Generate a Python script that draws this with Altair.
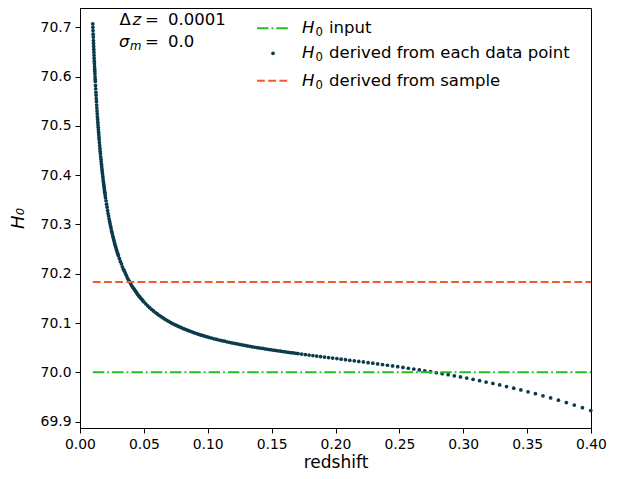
import altair as alt
import pandas as pd

# ---------------- data ----------------
z_part1 = [0.0100, 0.0101, 0.0102, 0.0103, 0.0104, 0.0105, 0.0106, 0.0107, 0.0108, 0.0109,
           0.0110, 0.0111, 0.0112, 0.0113, 0.0114, 0.0115, 0.0116, 0.0117, 0.0118, 0.0119, 0.0120,
           0.01215, 0.0123, 0.01245, 0.0126, 0.01275, 0.0129, 0.01305, 0.0132, 0.01335, 0.0135,
           0.01365, 0.0138, 0.01395, 0.0141, 0.01425, 0.0144, 0.01455, 0.0147, 0.01485, 0.0150]
h_part1 = [70.707, 70.700, 70.693, 70.686, 70.680, 70.673, 70.667, 70.661, 70.655, 70.649,
           70.643, 70.637, 70.631, 70.626, 70.620, 70.615, 70.610, 70.605, 70.599, 70.594, 70.590,
           70.582, 70.575, 70.568, 70.562, 70.555, 70.549, 70.542, 70.536, 70.530, 70.524,
           70.518, 70.513, 70.507, 70.502, 70.497, 70.492, 70.487, 70.482, 70.477, 70.472]

z_part2 = [0.0152, 0.0154, 0.0156, 0.0158, 0.0160, 0.0162, 0.0164, 0.0166, 0.0168, 0.0170,
           0.0172, 0.0174, 0.0176, 0.0178, 0.0180, 0.0182, 0.0184, 0.0186, 0.0188, 0.0190,
           0.0192, 0.0194, 0.0196, 0.0198, 0.0200,
           0.0204, 0.0208, 0.0212, 0.0216, 0.0220, 0.0224, 0.0228, 0.0232, 0.0236, 0.0240,
           0.0244, 0.0248, 0.0252, 0.0256, 0.0260, 0.0264, 0.0268, 0.0272, 0.0276, 0.0280,
           0.0284, 0.0288, 0.0292, 0.0296, 0.0300]
h_part2 = [70.466, 70.460, 70.454, 70.448, 70.443, 70.437, 70.432, 70.427, 70.422, 70.417,
           70.412, 70.407, 70.403, 70.398, 70.394, 70.389, 70.385, 70.381, 70.377, 70.373,
           70.369, 70.365, 70.362, 70.358, 70.354,
           70.348, 70.341, 70.335, 70.328, 70.322, 70.317, 70.311, 70.306, 70.301, 70.296,
           70.291, 70.286, 70.282, 70.277, 70.273, 70.269, 70.265, 70.261, 70.257, 70.254,
           70.250, 70.247, 70.243, 70.240, 70.237]

z_part3 = [0.0308, 0.0316, 0.0324, 0.0332, 0.0340, 0.0348, 0.0356, 0.0364, 0.0372, 0.0380,
           0.0388, 0.0396, 0.0404, 0.0412, 0.0420, 0.0428, 0.0436, 0.0444, 0.0452, 0.0460,
           0.0468, 0.0476, 0.0484, 0.0492, 0.0500,
           0.0515, 0.0530, 0.0545, 0.0560, 0.0575, 0.0590, 0.0605, 0.0620, 0.0635, 0.0650,
           0.0665, 0.0680, 0.0695, 0.0710, 0.0725, 0.0740, 0.0755, 0.0770, 0.0785, 0.0800,
           0.0815, 0.0830, 0.0845, 0.0860, 0.0875, 0.0890, 0.0905, 0.0920, 0.0935, 0.0950,
           0.0965, 0.0980, 0.0995]
h_part3 = [70.231, 70.225, 70.220, 70.214, 70.209, 70.205, 70.200, 70.196, 70.191, 70.187,
           70.184, 70.180, 70.176, 70.173, 70.170, 70.167, 70.164, 70.161, 70.158, 70.155,
           70.153, 70.150, 70.148, 70.145, 70.143,
           70.1388, 70.1349, 70.1312, 70.1277, 70.1244, 70.1213, 70.1183, 70.1155, 70.1128, 70.1102,
           70.1078, 70.1054, 70.1031, 70.1010, 70.0989, 70.0969, 70.0950, 70.0931, 70.0914, 70.0897,
           70.0880, 70.0864, 70.0849, 70.0834, 70.0820, 70.0806, 70.0792, 70.0779, 70.0766, 70.0754,
           70.0742, 70.0730, 70.0719]

z_part4 = [0.101, 0.103, 0.105, 0.107, 0.109, 0.111, 0.113, 0.115, 0.117, 0.119,
           0.121, 0.123, 0.125, 0.127, 0.129, 0.131, 0.133, 0.135, 0.137, 0.139,
           0.141, 0.143, 0.145, 0.147, 0.149, 0.151, 0.153, 0.155, 0.157, 0.159,
           0.161, 0.163, 0.165, 0.167, 0.169]
h_part4 = [70.0708, 70.0694, 70.0680, 70.0667, 70.0654, 70.0642, 70.0630, 70.0618, 70.0607, 70.0596,
           70.0585, 70.0575, 70.0565, 70.0555, 70.0545, 70.0535, 70.0526, 70.0517, 70.0508, 70.0500,
           70.0491, 70.0483, 70.0475, 70.0467, 70.0459, 70.0451, 70.0443, 70.0436, 70.0428, 70.0421,
           70.0413, 70.0406, 70.0399, 70.0392, 70.0385]

z_part5 = [0.1707, 0.1735, 0.1764, 0.1793, 0.1823, 0.1853, 0.1883, 0.1914, 0.1946, 0.1978,
           0.2011, 0.2044, 0.2078, 0.2112, 0.2147, 0.2182, 0.2218, 0.2255, 0.2292, 0.2330,
           0.2368, 0.2407, 0.2447, 0.2487, 0.2528, 0.2570, 0.2613, 0.2656, 0.2699, 0.2744,
           0.2789, 0.2835, 0.2882, 0.2930, 0.2978, 0.3027, 0.3077, 0.3128, 0.3179, 0.3232,
           0.3285, 0.3339, 0.3395, 0.3451, 0.3507, 0.3565, 0.3624, 0.3684, 0.3745, 0.3807,
           0.3869, 0.3933, 0.3998]
h_part5 = [70.0379, 70.0369, 70.0360, 70.0350, 70.0340, 70.0330, 70.0320, 70.0309, 70.0299, 70.0288,
           70.0278, 70.0267, 70.0256, 70.0244, 70.0233, 70.0221, 70.0209, 70.0196, 70.0184, 70.0170,
           70.0157, 70.0143, 70.0128, 70.0114, 70.0098, 70.0082, 70.0065, 70.0048, 70.0031, 70.0012,
           69.9993, 69.9972, 69.9951, 69.9929, 69.9906, 69.9882, 69.9857, 69.9830, 69.9803, 69.9774,
           69.9743, 69.9711, 69.9677, 69.9642, 69.9605, 69.9566, 69.9524, 69.9480, 69.9434, 69.9386,
           69.9335, 69.9281, 69.9224]

redshift = z_part1 + z_part2 + z_part3 + z_part4 + z_part5
h0_points = h_part1 + h_part2 + h_part3 + h_part4 + h_part5

h0_input = 70.0
h0_sample = 70.183
line_z = [0.01, 0.40]

x_ticks = [0.0, 0.05, 0.10, 0.15, 0.20, 0.25, 0.30, 0.35, 0.40]
y_ticks = [69.9, 70.0, 70.1, 70.2, 70.3, 70.4, 70.5, 70.6, 70.7]
x_domain = [0.0, 0.40]
y_domain = [69.887, 70.739]

legend_labels = ["input", "derived from each data point", "derived from sample"]
annot_dz = "0.0001"
annot_sigma = "0.0"

# ---------------- styling ----------------
FONT = "DejaVu Sans"
DOT = "#0b3b4c"
GREEN = "#22bf22"
ORANGE = "#f25a2b"
W, H = 511, 420
FS = 16.5
DOT_SIZE = 14
DASHDOT = [11.5, 3, 1.8, 3]
DASHED = [7.8, 3.4]

pts = pd.DataFrame({"z": redshift, "H": h0_points})
inp = pd.DataFrame({"z0": [line_z[0]], "z1": [line_z[1]], "H": [h0_input]})
smp = pd.DataFrame({"z0": [line_z[0]], "z1": [line_z[1]], "H": [h0_sample]})
dummy = pd.DataFrame({"a": [0]})

xs = alt.Scale(domain=x_domain, nice=False, zero=False)
ys = alt.Scale(domain=y_domain, nice=False, zero=False)

xax = alt.Axis(values=x_ticks, format=".2f", title="redshift", titleFontSize=17,
               titleX=W / 2, titleY=34, titleBaseline="middle", titleAlign="center",
               titleAnchor="middle")
yax = alt.Axis(values=y_ticks, format=".1f", title="H₀", titleFontSize=18,
               titleFontStyle="italic", titleAngle=270, titleX=-62, titleY=H / 2,
               titleBaseline="middle", titleAlign="center")

points = alt.Chart(pts).mark_circle(size=DOT_SIZE, color=DOT, opacity=1).encode(
    x=alt.X("z:Q", scale=xs, axis=xax),
    y=alt.Y("H:Q", scale=ys, axis=yax),
)

input_rule = alt.Chart(inp).mark_rule(color=GREEN, strokeWidth=2, strokeDash=DASHDOT).encode(
    x=alt.X("z0:Q", scale=xs), x2="z1:Q", y=alt.Y("H:Q", scale=ys))
sample_rule = alt.Chart(smp).mark_rule(color=ORANGE, strokeWidth=2, strokeDash=DASHED).encode(
    x=alt.X("z0:Q", scale=xs), x2="z1:Q", y=alt.Y("H:Q", scale=ys))


def txt(s, x, y, size=FS, style="normal"):
    return alt.Chart(dummy).mark_text(text=s, font=FONT, fontSize=size, fontStyle=style,
                                      align="left", baseline="middle", color="black").encode(
        x=alt.value(x), y=alt.value(y))


def sample_line(y, color, dash):
    return alt.Chart(dummy).mark_rule(color=color, strokeWidth=2, strokeDash=dash).encode(
        x=alt.value(177), x2=alt.value(208), y=alt.value(y))


rows_y = [20.3, 45.3, 72.8]
legend_layers = [
    sample_line(rows_y[0], GREEN, DASHDOT),
    alt.Chart(dummy).mark_circle(size=DOT_SIZE, color=DOT, opacity=1).encode(
        x=alt.value(193), y=alt.value(rows_y[1])),
    sample_line(rows_y[2], ORANGE, DASHED),
]
for ry, lab in zip(rows_y, legend_labels):
    legend_layers += [
        txt("H", 222, ry, style="italic"),
        txt("0", 235.5, ry + 4, size=11.7),
        txt(lab, 249, ry),
    ]

annot_layers = [
    txt("Δ", 39.5, 12),
    txt("z", 52.5, 12, style="italic"),
    txt("=", 65, 12),
    txt(annot_dz, 88, 12),
    txt("σ", 39, 33.5, style="italic"),
    txt("m", 50, 37.5, size=11.7, style="italic"),
    txt("=", 65, 33.5),
    txt(annot_sigma, 88, 33.5),
]

chart = alt.layer(points, input_rule, sample_rule, *legend_layers, *annot_layers).properties(
    width=W, height=H,
    autosize=alt.AutoSizeParams(type="none"),
    padding={"left": 72, "top": 0, "right": 19, "bottom": 43},
).configure_view(stroke="black", strokeWidth=1).configure_axis(
    grid=False, domainColor="black", tickColor="black", labelColor="black", titleColor="black",
    labelFont=FONT, titleFont=FONT, labelFontSize=13.9, titleFontWeight="normal",
    tickSize=5, labelPadding=4, labelFlush=False, labelOverlap=False, domainWidth=1, tickWidth=1,
)

chart.save("out.html", embed_options={"renderer": "svg", "actions": False})
